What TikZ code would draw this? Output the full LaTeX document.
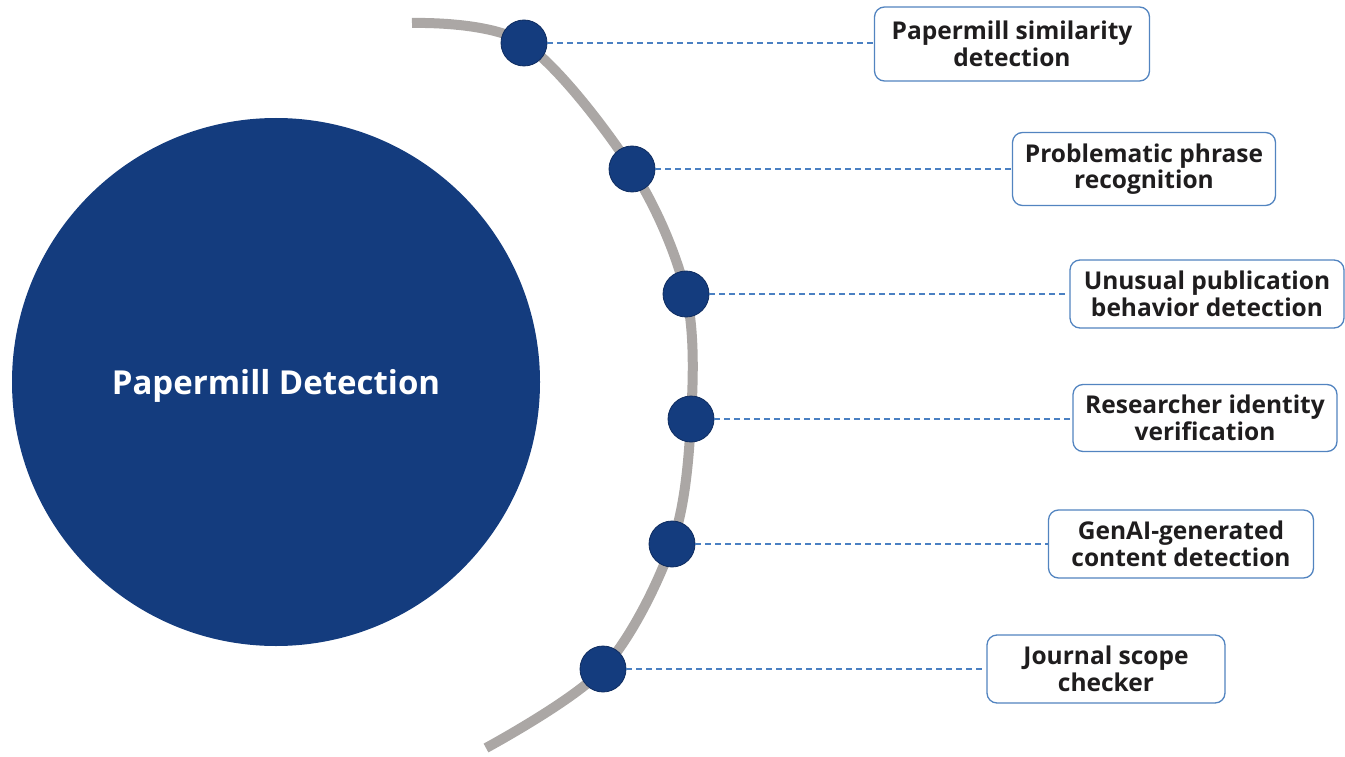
\documentclass[tikz,border=0pt]{standalone}
\usepackage{fontspec}
\setmainfont{Open Sans}
\definecolor{navy}{HTML}{143C7E}
\definecolor{navyedge}{HTML}{0E2C60}
\definecolor{track}{HTML}{ABA7A5}
\definecolor{linkblue}{HTML}{4A80C2}
\definecolor{boxedge}{HTML}{5284C0}
\definecolor{ink}{HTML}{1F1D1E}
\begin{document}
\begin{tikzpicture}[x=1pt,y=-1pt,
  hub/.style={circle,fill=navy,draw=none,minimum size=528pt,inner sep=0pt},
  hubtext/.style={text=white,font=\fontsize{33}{38}\selectfont\bfseries},
  dot/.style={circle,fill=navy,draw=navyedge,line width=0.8pt,minimum size=46pt,inner sep=0pt},
  item/.style={draw=boxedge,line width=1.3pt,rounded corners=10pt,fill=white,
    align=center,text=ink,minimum height=70pt,inner sep=2pt,
    font=\fontsize{24.5}{26.5}\selectfont\bfseries},
  link/.style={draw=linkblue,line width=1.3pt,dash pattern=on 6pt off 4pt},
  trackline/.style={draw=track,line width=10pt}]
\useasboundingbox (0,0) rectangle (1345,757);

% central circle and its title
\node[hub] (hub) at (276,382) {};
\node[hubtext] (title) at ([yshift=-4pt]hub.center) {Papermill Detection};

% curved track
\draw[trackline] plot[smooth,tension=0.55] coordinates
  {(412,23) (524,43) (632,169) (686,294) (691,419) (672,544) (603,669) (486,748)};

% markers on the track
\node[dot] (d1) at (524,43) {};
\node[dot] (d2) at (632,169) {};
\node[dot] (d3) at (686,294) {};
\node[dot] (d4) at (691,419) {};
\node[dot] (d5) at (672,544) {};
\node[dot] (d6) at (603,669) {};

% labels
\node[item,minimum width=275pt,minimum height=74pt] (b1) at (1012,44) {Papermill similarity\\detection};
\node[item,minimum width=263pt,minimum height=73pt] (b2) at (1144,169) {Problematic phrase\\recognition};
\node[item,minimum width=274pt,minimum height=68pt] (b3) at (1207,294) {Unusual publication\\behavior detection};
\node[item,minimum width=264pt,minimum height=67pt] (b4) at (1205,418) {Researcher identity\\verification};
\node[item,minimum width=265pt,minimum height=68pt] (b5) at (1181,544) {GenAI-generated\\content detection};
\node[item,minimum width=238pt,minimum height=68pt] (b6) at (1106,669) {Journal scope\\checker};

% connectors
\foreach \i in {1,...,6}
  \draw[link] (d\i.east) -- (d\i.east -| b\i.west);
\end{tikzpicture}
\end{document}
